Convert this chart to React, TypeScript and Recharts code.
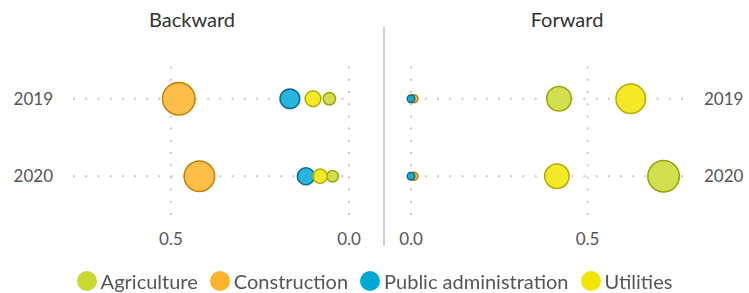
import React from 'react';
import { ScatterChart, Scatter, XAxis, YAxis, ZAxis, ReferenceLine } from 'recharts';

const years = [2019, 2020];
const sectors = ['Agriculture', 'Construction', 'Public administration', 'Utilities'];

// backward linkages per sector (2019, 2020)
const backwardAgriculture = [0.055, 0.046];
const backwardConstruction = [0.478, 0.42];
const backwardPublicAdmin = [0.166, 0.121];
const backwardUtilities = [0.101, 0.081];

// forward linkages per sector (2019, 2020)
const forwardAgriculture = [0.419, 0.715];
const forwardConstruction = [0.008, 0.008];
const forwardPublicAdmin = [0.0, 0.0];
const forwardUtilities = [0.622, 0.413];

const xTicks = [0, 0.5];

const fills: Record<string, string> = {
  Agriculture: '#C9D932',
  Construction: '#FDB42A',
  'Public administration': '#00A8D6',
  Utilities: '#F2E500',
};
const strokes: Record<string, string> = {
  Agriculture: '#98A600',
  Construction: '#C47E00',
  'Public administration': '#0B6A95',
  Utilities: '#B6AC00',
};

const toRows = (vals: number[]) => years.map((year, i) => ({ year, value: vals[i] }));

const backward = [backwardAgriculture, backwardConstruction, backwardPublicAdmin, backwardUtilities].map(toRows);
const forward = [forwardAgriculture, forwardConstruction, forwardPublicAdmin, forwardUtilities].map(toRows);

const font = 'Lato, "Open Sans", sans-serif';
const tickStyle = { fill: '#555', fontSize: 17, fontFamily: font };
const dotted = {
  stroke: '#c8c8c8',
  strokeWidth: 2,
  strokeDasharray: '2 10.2',
};

// dotted guide lines only at the ticks (no border lines)
function Guides() {
  return [
    ...years.map((y) => <ReferenceLine key={'y' + y} y={y} {...dotted} />),
    ...xTicks.map((x) => <ReferenceLine key={'x' + x} x={x} {...dotted} />),
  ];
}

function Bubbles(rows: { year: number; value: number }[][]) {
  return rows.map((data, i) => (
    <Scatter
      key={sectors[i]}
      name={sectors[i]}
      data={data}
      fill={fills[sectors[i]]}
      stroke={strokes[sectors[i]]}
      strokeWidth={1.5}
      fillOpacity={0.85}
      isAnimationActive={false}
    />
  ));
}

export default function App() {
  return (
    <div style={{ position: 'fixed', left: 0, top: 0, width: 749, height: 293, background: '#fff', fontFamily: font }}>
      <div style={{ position: 'absolute', left: 0, width: 384, top: 9, textAlign: 'center', fontSize: 20, lineHeight: '20px', color: '#333' }}>
        Backward
      </div>
      <div style={{ position: 'absolute', left: 384, width: 366, top: 9, textAlign: 'center', fontSize: 20, lineHeight: '20px', color: '#333' }}>
        Forward
      </div>

      <div style={{ position: 'absolute', left: 0, top: 0 }}>
        <ScatterChart width={384} height={250} margin={{ top: 60, right: 35, bottom: 0, left: 0 }}>
          <XAxis
            type="number"
            dataKey="value"
            domain={[0, 0.775]}
            reversed
            ticks={xTicks}
            tickFormatter={(v: number) => v.toFixed(1)}
            axisLine={false}
            tickLine={false}
            tickSize={0}
            tickMargin={18}
            height={35}
            tick={tickStyle}
          />
          <YAxis
            type="number"
            dataKey="year"
            domain={[2018.5, 2020.5]}
            reversed
            ticks={years}
            axisLine={false}
            tickLine={false}
            tickSize={0}
            tickMargin={20}
            width={73}
            tick={tickStyle}
          />
          <ZAxis type="number" dataKey="value" domain={[0.046, 0.478]} range={[104, 830]} />
          {Guides()}
          {Bubbles(backward)}
        </ScatterChart>
      </div>

      <div style={{ position: 'absolute', left: 383, top: 27, width: 2, height: 219, background: '#d0d0d0' }} />

      <div style={{ position: 'absolute', left: 384, top: 0 }}>
        <ScatterChart width={365} height={250} margin={{ top: 60, right: 0, bottom: 0, left: 27 }}>
          <XAxis
            type="number"
            dataKey="value"
            domain={[0, 0.77]}
            ticks={xTicks}
            tickFormatter={(v: number) => v.toFixed(1)}
            axisLine={false}
            tickLine={false}
            tickSize={0}
            tickMargin={18}
            height={35}
            tick={tickStyle}
          />
          <YAxis
            type="number"
            dataKey="year"
            orientation="right"
            domain={[2018.5, 2020.5]}
            reversed
            ticks={years}
            axisLine={false}
            tickLine={false}
            tickSize={0}
            tickMargin={21}
            width={66}
            tick={{ ...tickStyle, textAnchor: 'start' }}
          />
          <ZAxis type="number" dataKey="value" domain={[0, 0.715]} range={[44, 779]} />
          {Guides()}
          {Bubbles(forward)}
        </ScatterChart>
      </div>

      <div
        style={{
          position: 'absolute',
          left: 6,
          width: 749,
          top: 271,
          display: 'flex',
          justifyContent: 'center',
          alignItems: 'center',
          fontSize: 20,
          lineHeight: '20px',
          color: '#555',
        }}
      >
        {sectors.map((s) => (
          <div key={s} style={{ display: 'flex', alignItems: 'center', marginRight: 12 }}>
            <span style={{ width: 20, height: 20, borderRadius: 10, background: fills[s], display: 'inline-block', marginRight: 4 }} />
            <span>{s}</span>
          </div>
        ))}
      </div>
    </div>
  );
}
